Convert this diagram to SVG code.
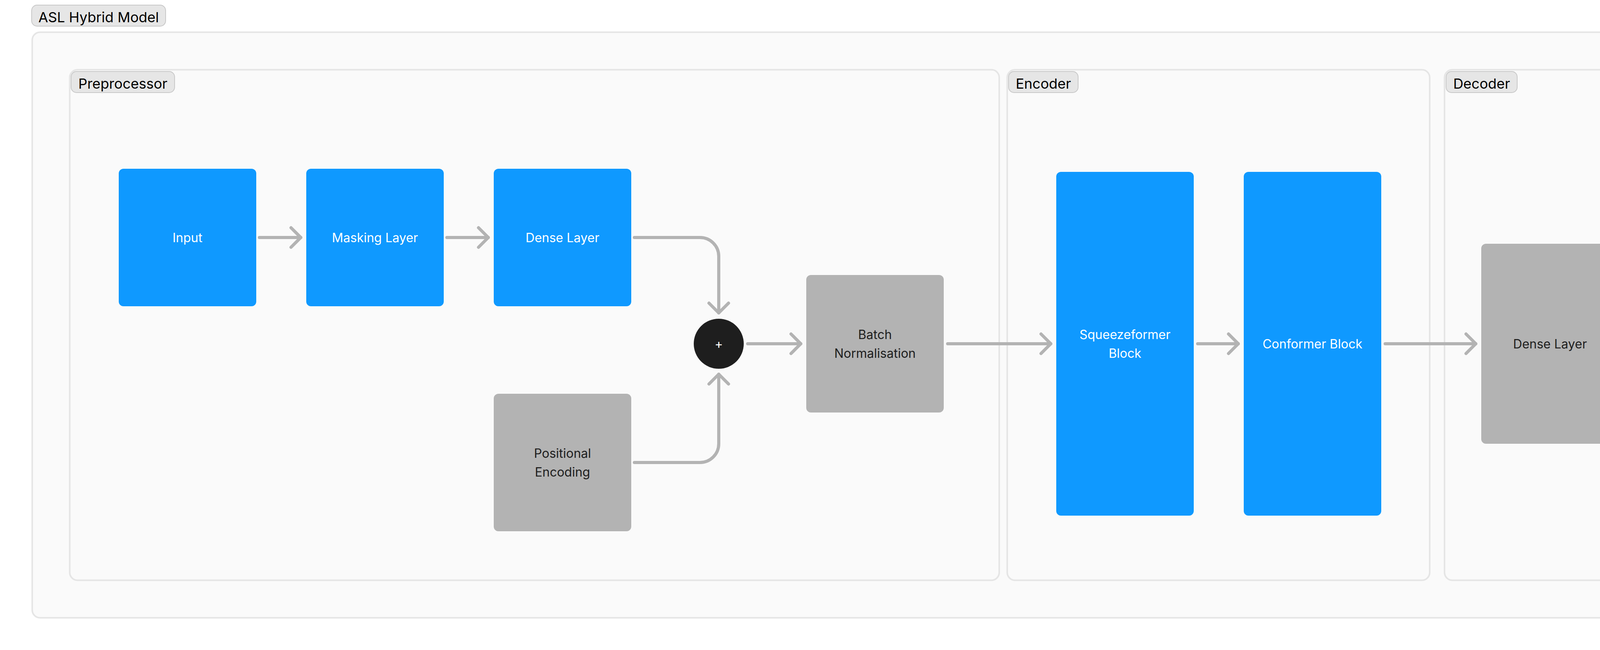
<svg xmlns="http://www.w3.org/2000/svg" width="5408" height="1664" viewBox="0 0 5408 1664">
<style>
.cont{fill:#fafafa;stroke:#e5e5e5;stroke-width:4}
.lab{fill:#e6e6e6;stroke:#c8c8c8;stroke-width:2}
.labt{font-family:Inter,"Liberation Sans",sans-serif;font-size:36px;fill:#000;text-anchor:middle}
.blue{fill:#0f99ff}
.grey{fill:#b3b3b3}
.t{font-family:Inter,"Liberation Sans",sans-serif;font-size:32px;text-anchor:middle}
.tw{fill:#ffffff}
.td{fill:#1e1e1e}
.edge{fill:none;stroke:#b3b3b3;stroke-width:8;stroke-linecap:round;stroke-linejoin:round}
</style>
<defs>
<marker id="arr" markerUnits="userSpaceOnUse" orient="auto" refX="0" refY="0" markerWidth="40" markerHeight="64" viewBox="-34 -32 40 64" overflow="visible">
<path d="M-25,-25 L0,0 L-25,25" fill="none" stroke="#b3b3b3" stroke-width="8" stroke-linecap="round" stroke-linejoin="round"/>
</marker>
</defs>
<rect x="0" y="0" width="5408" height="1664" fill="#ffffff"/>

<g id="container-asl">
<rect class="cont" x="82.5" y="82.5" width="5243.5" height="1499" rx="20"/>
<rect class="lab" x="81" y="13" width="343" height="54" rx="14"/>
<text class="labt" x="252.5" y="57">ASL Hybrid Model</text>
</g>
<g id="container-preprocessor">
<rect class="cont" x="178.5" y="178.5" width="2379.5" height="1307" rx="20"/>
<rect class="lab" x="182" y="183" width="265" height="54" rx="14"/>
<text class="labt" x="314.5" y="227">Preprocessor</text>
</g>
<g id="container-encoder">
<rect class="cont" x="2578.5" y="178.5" width="1081.5" height="1307" rx="20"/>
<rect class="lab" x="2582" y="183" width="178" height="54" rx="14"/>
<text class="labt" x="2671" y="227">Encoder</text>
</g>
<g id="container-decoder">
<rect class="cont" x="3698" y="178.5" width="1532" height="1307" rx="20"/>
<rect class="lab" x="3702" y="183" width="182" height="54" rx="14"/>
<text class="labt" x="3793" y="227">Decoder</text>
</g>

<g id="connectors">
<path class="edge" marker-end="url(#arr)" d="M664,608 H770"/>
<path class="edge" marker-end="url(#arr)" d="M1144,608 H1250"/>
<path class="edge" marker-end="url(#arr)" d="M1624,608 H1792 A48,48 0 0 1 1840,656 V801"/>
<path class="edge" marker-end="url(#arr)" d="M1624,1184 H1792 A48,48 0 0 0 1840,1136 V958"/>
<path class="edge" marker-end="url(#arr)" d="M1914,880 H2050"/>
<path class="edge" marker-end="url(#arr)" d="M2426,880 H2690"/>
<path class="edge" marker-end="url(#arr)" d="M3066,880 H3170"/>
<path class="edge" marker-end="url(#arr)" d="M3546,880 H3778"/>
<path class="edge" marker-end="url(#arr)" d="M4154,880 H4290"/>
<path class="edge" marker-end="url(#arr)" d="M4666,880 H4770"/>
</g>

<g id="node-input">
<rect class="blue" x="304" y="432" width="352" height="352" rx="12"/>
<text class="t tw" x="480" y="620">Input</text>
</g>
<g id="node-masking">
<rect class="blue" x="784" y="432" width="352" height="352" rx="12"/>
<text class="t tw" x="960" y="620">Masking Layer</text>
</g>
<g id="node-dense-pre">
<rect class="blue" x="1264" y="432" width="352" height="352" rx="12"/>
<text class="t tw" x="1440" y="620">Dense Layer</text>
</g>
<g id="node-positional">
<rect class="grey" x="1264" y="1008" width="352" height="352" rx="12"/>
<text class="t td" x="1440" y="1172">Positional</text>
<text class="t td" x="1440" y="1220">Encoding</text>
</g>
<g id="node-add">
<circle cx="1840" cy="880" r="64" fill="#1e1e1e"/>
<text class="t tw" x="1840" y="892">+</text>
</g>
<g id="node-batchnorm">
<rect class="grey" x="2064" y="704" width="352" height="352" rx="12"/>
<text class="t td" x="2240" y="868">Batch</text>
<text class="t td" x="2240" y="916">Normalisation</text>
</g>
<g id="node-squeezeformer">
<rect class="blue" x="2704" y="440" width="352" height="880" rx="12"/>
<text class="t tw" x="2880" y="868">Squeezeformer</text>
<text class="t tw" x="2880" y="916">Block</text>
</g>
<g id="node-conformer">
<rect class="blue" x="3184" y="440" width="352" height="880" rx="12"/>
<text class="t tw" x="3360" y="892">Conformer Block</text>
</g>
<g id="node-dense-dec">
<rect class="grey" x="3792" y="624" width="352" height="512" rx="12"/>
<text class="t td" x="3968" y="892">Dense Layer</text>
</g>
<g id="node-dropout">
<rect class="grey" x="4304" y="624" width="352" height="512" rx="12"/>
<text class="t td" x="4480" y="892">Dropout</text>
</g>
<g id="node-classifier">
<rect class="grey" x="4784" y="624" width="352" height="512" rx="12"/>
<text class="t td" x="4960" y="892">Dense Classifier</text>
</g>
</svg>
